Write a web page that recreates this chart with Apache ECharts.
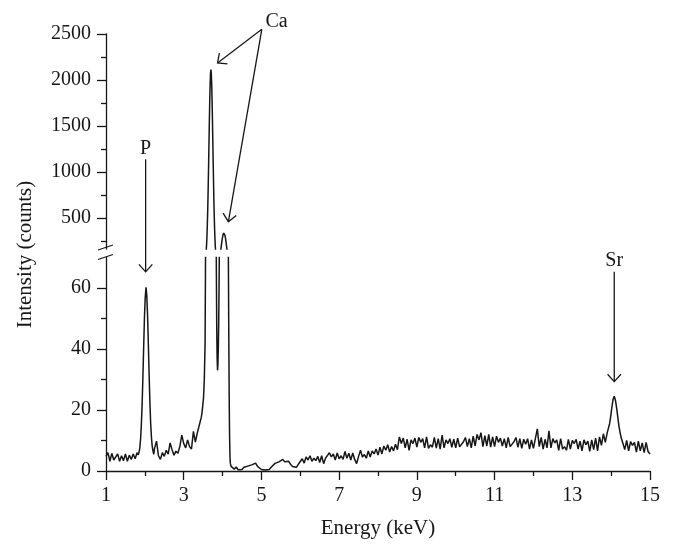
<!DOCTYPE html>
<html><head><meta charset="utf-8">
<script src="https://cdn.jsdelivr.net/npm/echarts@6/dist/echarts.min.js"></script>
<style>html,body{margin:0;padding:0;background:#fff}#c{width:674px;height:556px}</style>
</head><body><div id="c"></div>
<script>
// ---- Spectrum data: [energy keV, counts] ----
const bgStart = [[1.00,4.8],[1.05,6.0],[1.10,3.2],[1.15,5.8],[1.20,3.6],[1.25,3.0],[1.30,5.6],[1.35,3.2],[1.40,5.0],[1.45,3.4],[1.50,5.6],[1.55,3.2],[1.60,5.2],[1.65,3.8],[1.70,5.6],[1.75,4.0],[1.80,6.0]];
const peakP = [[1.83,5.3],[1.85,6.2],[1.87,7.6],[1.89,10.5],[1.91,15.2],[1.93,22.0],[1.95,31.0],[1.97,41.0],[1.99,50.5],[2.01,57.0],[2.03,60.2],[2.05,57.5],[2.07,51.0],[2.09,41.5],[2.11,31.5],[2.13,22.5],[2.15,15.5],[2.17,11.0],[2.19,8.0],[2.21,6.5],[2.23,5.5]];
const bgPtoCa = [[2.25,7.5],[2.30,9.8],[2.35,5.0],[2.40,3.8],[2.45,6.0],[2.50,4.8],[2.55,6.8],[2.60,5.5],[2.65,9.2],[2.70,7.0],[2.75,5.2],[2.80,6.5],[2.85,5.8],[2.90,8.0],[2.95,11.8],[3.00,9.0],[3.05,7.6],[3.10,10.2],[3.15,8.0],[3.20,7.2],[3.25,13.0],[3.30,9.5],[3.35,12.5],[3.40,15.0],[3.45,17.5]];
const peakCa = [[3.47,19],[3.49,21.5],[3.51,24],[3.53,30],[3.55,42],[3.56,66],[3.57,99],[3.58,150],[3.59,223],[3.60,325],[3.61,460],[3.62,630],[3.63,835],[3.64,1066],[3.65,1313],[3.66,1558],[3.67,1780],[3.68,1958],[3.69,2073],[3.70,2113],[3.71,2070],[3.72,1955],[3.73,1775],[3.74,1555],[3.75,1310],[3.76,1062],[3.77,830],[3.78,625],[3.79,455],[3.80,318],[3.81,215],[3.82,148],[3.83,98],[3.84,66],[3.85,47],[3.86,37],[3.87,33],[3.88,35],[3.89,40],[3.90,48],[3.91,61],[3.92,78],[3.93,97],[3.94,121],[3.95,148],[3.96,176],[3.97,207],[3.98,238],[3.99,268],[4.00,293],[4.01,315],[4.02,330],[4.03,337],[4.04,336],[4.05,329],[4.06,313],[4.07,291],[4.08,264],[4.09,234],[4.10,202],[4.11,171],[4.12,141],[4.13,114],[4.14,89],[4.15,68],[4.16,45],[4.17,25],[4.18,12],[4.19,5],[4.20,2.5],[4.22,1.5],[4.25,1.2]];
const bgMid = [[4.30,0.6],[4.35,1.3],[4.40,0.4],[4.45,1.0],[4.50,0.5],[4.55,1.2],[4.60,0.8],[4.65,1.6],[4.70,1.2],[4.75,2.0],[4.80,1.8],[4.85,2.6],[4.90,1.5],[4.95,1.0],[5.00,0.5],[5.05,1.0],[5.10,0.3],[5.15,0.9],[5.20,0.5],[5.25,1.2],[5.30,1.8],[5.35,2.5],[5.40,2.0],[5.45,3.0],[5.50,2.6],[5.55,3.8],[5.60,3.0],[5.65,2.4],[5.70,3.2],[5.75,2.2],[5.80,1.5],[5.85,1.9],[5.90,1.2],[5.95,2.2],[6.00,2.4],[6.05,4.0],[6.10,2.6],[6.15,4.6],[6.20,3.6],[6.25,5.0],[6.30,3.2],[6.35,4.2],[6.40,3.4],[6.45,4.8],[6.50,2.8],[6.55,5.0],[6.60,2.4],[6.65,4.2],[6.70,3.8],[6.75,6.0],[6.80,4.6],[6.85,5.6],[6.90,3.6],[6.95,5.9],[7.00,4.0],[7.05,5.0],[7.10,3.8],[7.15,6.4],[7.20,4.2],[7.25,5.8],[7.30,3.6],[7.35,5.9],[7.40,3.8],[7.45,2.4],[7.50,4.8],[7.55,6.8],[7.60,4.6],[7.65,5.4],[7.70,4.2],[7.75,6.6],[7.80,4.6],[7.85,6.6],[7.90,5.6],[7.95,7.2]];
const bgHigh = [[8.00,5.2],[8.05,7.8],[8.10,5.6],[8.15,8.2],[8.20,6.8],[8.25,8.6],[8.30,6.2],[8.35,8.0],[8.40,6.6],[8.45,8.8],[8.50,7.0],[8.55,11.2],[8.60,9.0],[8.65,10.8],[8.70,7.6],[8.75,10.4],[8.80,6.8],[8.85,10.2],[8.90,9.0],[8.95,10.8],[9.00,7.8],[9.05,11.0],[9.10,9.4],[9.15,10.6],[9.20,7.6],[9.25,11.2],[9.30,7.4],[9.35,8.6],[9.40,7.8],[9.45,11.0],[9.50,7.5],[9.55,10.6],[9.60,7.2],[9.65,11.8],[9.70,7.6],[9.75,10.2],[9.80,9.0],[9.85,10.6],[9.90,7.8],[9.95,10.4],[10.00,7.6],[10.05,10.8],[10.10,7.9],[10.15,8.4],[10.20,9.6],[10.25,11.0],[10.30,8.0],[10.35,10.6],[10.40,7.6],[10.45,11.4],[10.50,8.2],[10.55,12.0],[10.60,10.2],[10.65,12.6],[10.70,8.0],[10.75,11.6],[10.80,8.2],[10.85,12.0],[10.90,7.8],[10.95,11.2],[11.00,8.0],[11.05,11.4],[11.10,9.4],[11.15,10.8],[11.20,8.2],[11.25,10.6],[11.30,7.6],[11.35,11.0],[11.40,8.0],[11.45,8.4],[11.50,9.6],[11.55,11.0],[11.60,7.8],[11.65,10.6],[11.70,7.4],[11.75,10.4],[11.80,8.8],[11.85,10.6],[11.90,7.2],[11.95,10.2]];
const bgBeforeSr = [[12.00,7.4],[12.05,10.6],[12.10,13.8],[12.15,8.0],[12.20,11.0],[12.25,7.2],[12.30,10.4],[12.35,7.6],[12.40,13.2],[12.45,7.6],[12.50,10.6],[12.55,9.2],[12.60,10.2],[12.65,6.8],[12.70,10.6],[12.75,7.2],[12.80,8.0],[12.85,6.8],[12.90,10.4],[12.95,7.2],[13.00,10.0],[13.05,9.0],[13.10,10.4],[13.15,7.2],[13.20,9.8],[13.25,6.6],[13.30,10.2],[13.35,8.6],[13.40,9.8],[13.45,6.4],[13.50,10.2],[13.55,7.0],[13.60,10.8],[13.65,6.6],[13.70,11.2],[13.75,8.4],[13.80,12.2],[13.85,9.4],[13.90,12.6]];
const peakSr = [[13.93,13.2],[13.96,15.5],[13.99,18.0],[14.02,21.0],[14.05,23.5],[14.08,24.5],[14.11,23.2],[14.14,20.8],[14.17,17.8],[14.20,14.8],[14.23,12.6],[14.26,10.8],[14.30,9.2]];
const bgEnd = [[14.35,7.0],[14.40,10.0],[14.45,6.6],[14.50,9.6],[14.55,8.4],[14.60,9.4],[14.65,6.2],[14.70,9.8],[14.75,6.6],[14.80,9.2],[14.85,6.0],[14.90,9.4],[14.95,6.4],[15.00,5.6]];

// ---- Axis ticks ----
const upperMajor = [500, 1000, 1500, 2000, 2500];
const upperMinor = [250, 750, 1250, 1750, 2250];
const lowerMajor = [0, 20, 40, 60];
const lowerMinor = [10, 30, 50];
const xMajor = [1, 3, 5, 7, 9, 11, 13, 15];
const xMinor = [2, 4, 6, 8, 10, 12, 14];

// ---- Annotations (data coordinates, U = upper panel, L = lower panel) ----
const annP  = {text: 'P',  label: [2.02, 1255, 'U'], from: [2.02, 1138, 'U'], tips: [[2.02, 65.3, 'L']]};
const annCa = {text: 'Ca', label: [5.39, 2636, 'U'], from: [5.01, 2551, 'U'], tips: [[3.87, 2185, 'U'], [4.15, 460, 'U']]};
const annSr = {text: 'Sr', label: [14.08, 68.9, 'L'], from: [14.08, 65.3, 'L'], tips: [[14.08, 29.3, 'L']]};

const spectrum = [].concat(bgStart, peakP, bgPtoCa, peakCa, bgMid, bgHigh, bgBeforeSr, peakSr, bgEnd);

const FONT = 'Liberation Serif';
const INK = '#161616';
const LW = 1.3;

const chart = echarts.init(document.getElementById('c'), null, {renderer: 'canvas'});

const lbl = (vals) => ({customValues: vals, fontFamily: FONT, fontSize: 20, color: INK, margin: 15,
                        formatter: (v) => String(v)});
const line = {onZero: false, lineStyle: {color: INK, width: LW}};

chart.setOption({
  animation: false,
  backgroundColor: '#fff',
  grid: [
    {left: 106, right: 24, top: 34, height: 215},
    {left: 106, right: 24, top: 257.5, height: 213.5}
  ],
  xAxis: [
    {gridIndex: 0, type: 'value', min: 1, max: 15, show: false},
    {gridIndex: 1, type: 'value', min: 1, max: 15, position: 'bottom',
     axisLine: line,
     axisTick: {customValues: xMajor, length: 9, lineStyle: {color: INK, width: LW}},
     axisLabel: lbl(xMajor), splitLine: {show: false},
     name: 'Energy (keV)', nameLocation: 'middle', nameGap: 47,
     nameTextStyle: {fontFamily: FONT, fontSize: 21, color: INK}},
    {gridIndex: 1, type: 'value', min: 1, max: 15, position: 'bottom',
     axisLine: {show: false, onZero: false},
     axisTick: {customValues: xMinor, length: 5, lineStyle: {color: INK, width: LW}},
     axisLabel: {show: false}, splitLine: {show: false}}
  ],
  yAxis: [
    {gridIndex: 0, type: 'value', min: 163, max: 2500, position: 'left',
     axisLine: line,
     axisTick: {customValues: upperMajor, length: 9, lineStyle: {color: INK, width: LW}},
     axisLabel: lbl(upperMajor), splitLine: {show: false}},
    {gridIndex: 0, type: 'value', min: 163, max: 2500, position: 'left',
     axisLine: {show: false, onZero: false},
     axisTick: {customValues: upperMinor, length: 5, lineStyle: {color: INK, width: LW}},
     axisLabel: {show: false}, splitLine: {show: false}},
    {gridIndex: 1, type: 'value', min: 0, max: 70, position: 'left',
     axisLine: line,
     axisTick: {customValues: lowerMajor, length: 9, lineStyle: {color: INK, width: LW}},
     axisLabel: lbl(lowerMajor), splitLine: {show: false}},
    {gridIndex: 1, type: 'value', min: 0, max: 70, position: 'left',
     axisLine: {show: false, onZero: false},
     axisTick: {customValues: lowerMinor, length: 5, lineStyle: {color: INK, width: LW}},
     axisLabel: {show: false}, splitLine: {show: false}}
  ],
  series: [
    {type: 'line', xAxisIndex: 0, yAxisIndex: 0, data: spectrum, showSymbol: false, symbol: 'none',
     clip: true, lineStyle: {color: INK, width: 1.5}},
    {type: 'line', xAxisIndex: 1, yAxisIndex: 2, data: spectrum, showSymbol: false, symbol: 'none',
     clip: true, lineStyle: {color: INK, width: 1.5}}
  ]
});

// ---- Decorations: annotations, arrows, axis break, y-axis title ----
const finders = {U: {xAxisIndex: 0, yAxisIndex: 0}, L: {xAxisIndex: 1, yAxisIndex: 2}};
const toPx = (p) => chart.convertToPixel(finders[p[2]], [p[0], p[1]]);
const g = [];
const stroke = {stroke: INK, lineWidth: LW, fill: null};

function arrow(a, b) {
  g.push({type: 'line', shape: {x1: a[0], y1: a[1], x2: b[0], y2: b[1]}, style: stroke, silent: true});
  const dx = a[0] - b[0], dy = a[1] - b[1], len = Math.hypot(dx, dy);
  const ux = dx / len, uy = dy / len, L = 10, ang = 42 * Math.PI / 180;
  const w = (s) => [b[0] + L * (ux * Math.cos(s * ang) - uy * Math.sin(s * ang)),
                    b[1] + L * (ux * Math.sin(s * ang) + uy * Math.cos(s * ang))];
  g.push({type: 'polyline', shape: {points: [w(1), b, w(-1)]}, style: stroke, silent: true});
}
[annP, annCa, annSr].forEach(an => {
  const lp = toPx(an.label);
  g.push({type: 'text', x: lp[0], y: lp[1], silent: true,
          style: {text: an.text, fontFamily: FONT, fontSize: 20, fill: INK, align: 'center', verticalAlign: 'middle'}});
  const f = toPx(an.from);
  an.tips.forEach(t => arrow(f, toPx(t)));
});

// axis break marks
const yUb = chart.convertToPixel({yAxisIndex: 0}, 163);
const yLt = chart.convertToPixel({yAxisIndex: 2}, 70);
const ax = chart.convertToPixel({xAxisIndex: 1}, 1);
g.push({type: 'line', shape: {x1: ax - 8, y1: yUb + 1, x2: ax + 7, y2: yUb - 4}, style: stroke, silent: true});
g.push({type: 'line', shape: {x1: ax - 8, y1: yLt + 2, x2: ax + 7, y2: yLt - 3}, style: stroke, silent: true});

// y-axis title spanning both panels
g.push({type: 'text', x: 25, y: (chart.convertToPixel({yAxisIndex: 0}, 2500) + chart.convertToPixel({yAxisIndex: 2}, 0)) / 2 + 2,
        rotation: Math.PI / 2, silent: true,
        style: {text: 'Intensity (counts)', fontFamily: FONT, fontSize: 21, fill: INK, align: 'center', verticalAlign: 'middle'}});

chart.setOption({graphic: {elements: g}});
</script>
</body></html>
